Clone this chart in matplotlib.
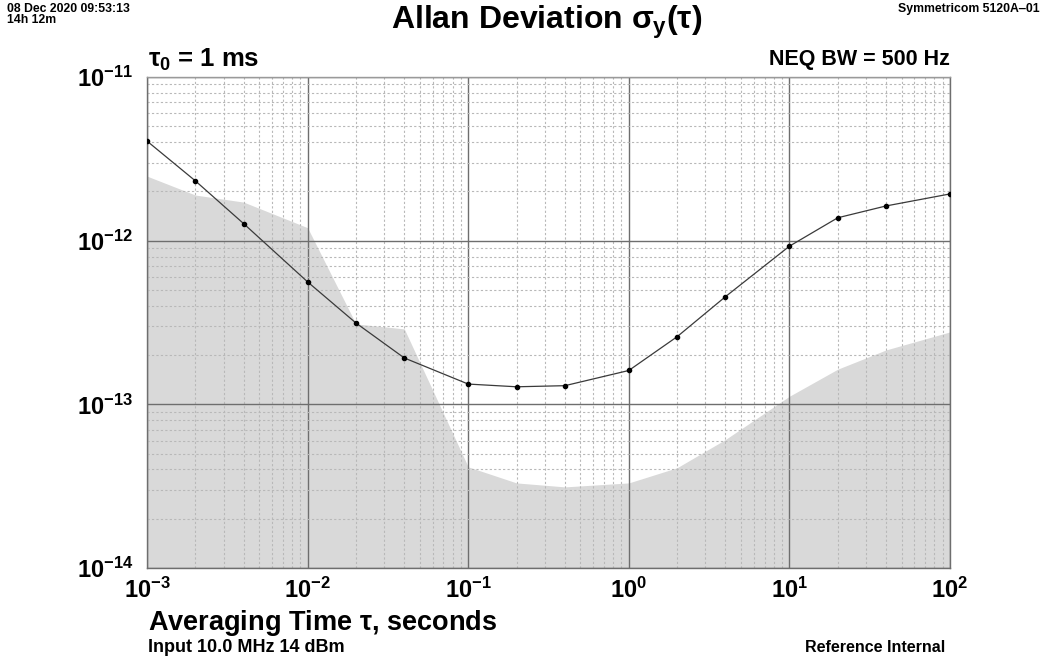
import matplotlib
matplotlib.use("Agg")
import matplotlib.pyplot as plt
from matplotlib.ticker import LogLocator, NullFormatter

# averaging times (s)
tau = [1e-3, 2e-3, 4e-3, 1e-2, 2e-2, 4e-2, 1e-1, 2e-1, 4e-1,
       1.0, 2.0, 4.0, 10.0, 20.0, 40.0, 100.0]
# measured Allan deviation
adev = [4.06e-12, 2.32e-12, 1.27e-12, 5.6e-13, 3.14e-13, 1.92e-13, 1.33e-13, 1.28e-13, 1.30e-13,
        1.61e-13, 2.59e-13, 4.55e-13, 9.25e-13, 1.38e-12, 1.63e-12, 1.93e-12]
# instrument noise floor (shaded)
floor = [2.48e-12, 1.90e-12, 1.72e-12, 1.20e-12, 3.10e-13, 2.89e-13, 4.15e-14, 3.31e-14, 3.13e-14,
         3.31e-14, 4.1e-14, 6.1e-14, 1.12e-13, 1.64e-13, 2.15e-13, 2.77e-13]

x_ticks = [1e-3, 1e-2, 1e-1, 1, 10, 100]
y_ticks = [1e-14, 1e-13, 1e-12, 1e-11]

plt.rcParams['font.family'] = ['Liberation Sans', 'DejaVu Sans']
plt.rcParams['font.weight'] = 'bold'
plt.rcParams['mathtext.fontset'] = 'custom'
plt.rcParams['mathtext.rm'] = 'Liberation Sans:bold'
plt.rcParams['mathtext.it'] = 'Liberation Sans:bold'
plt.rcParams['mathtext.bf'] = 'Liberation Sans:bold'
plt.rcParams['axes.unicode_minus'] = True

fig = plt.figure(figsize=(10.47, 6.62), dpi=100)
ax = fig.add_axes([147 / 1047, 1 - 568 / 662, 803 / 1047, 491 / 662])

ax.fill_between(tau, 1e-14, floor, color='#d9d9d9', linewidth=0, zorder=1)
ax.plot(tau, adev, color='#3a3a3a', lw=0.9, marker='o', ms=3, mfc='black', mec='black', zorder=3)

ax.set_xscale('log')
ax.set_yscale('log')
ax.set_xlim(1e-3, 100)
ax.set_ylim(1e-14, 1e-11)
ax.set_xticks(x_ticks)
ax.set_yticks(y_ticks)
ax.xaxis.set_minor_locator(LogLocator(base=10, subs=range(2, 10), numticks=50))
ax.yaxis.set_minor_locator(LogLocator(base=10, subs=range(2, 10), numticks=50))
ax.xaxis.set_minor_formatter(NullFormatter())
ax.yaxis.set_minor_formatter(NullFormatter())
ax.tick_params(which='both', length=0, labelsize=17)
ax.tick_params(axis='x', pad=7)
ax.tick_params(axis='y', pad=10)

ax.set_axisbelow('line')
ax.grid(which='major', color='#6e6e6e', lw=1.0, ls='-')
ax.grid(which='minor', color='#b8b8b8', lw=0.8, ls=(0, (2, 2)))
for s in ax.spines.values():
    s.set_color('#6e6e6e')
    s.set_linewidth(1.0)
ax.spines['top'].set_color('#9a9a9a')

fig.text(547 / 1047, 1 - 22 / 662, r'Allan Deviation $\sigma_y(\tau)$', ha='center', va='center',
         fontsize=23, fontweight='bold')
fig.text(7 / 1047, 1 - 3 / 662, '08 Dec 2020 09:53:13\n14h 12m', ha='left', va='top',
         fontsize=8.8, fontweight='bold', linespacing=0.85)
fig.text(1040 / 1047, 1 - 3 / 662, 'Symmetricom 5120A\u201201', ha='right', va='top',
         fontsize=8.8, fontweight='bold')
fig.text(148 / 1047, 1 - 60 / 662, r'$\tau_0$ = 1 ms', ha='left', va='center',
         fontsize=18.5, fontweight='bold')
fig.text(950 / 1047, 1 - 60 / 662, 'NEQ BW = 500 Hz', ha='right', va='center',
         fontsize=15.5, fontweight='bold')
fig.text(148 / 1047, 1 - 623 / 662, r'Averaging Time $\tau$, seconds', ha='left', va='center',
         fontsize=19.5, fontweight='bold')
fig.text(148 / 1047, 1 - 648 / 662, 'Input 10.0 MHz 14 dBm', ha='left', va='center',
         fontsize=13, fontweight='bold')
fig.text(945 / 1047, 1 - 648 / 662, 'Reference Internal', ha='right', va='center',
         fontsize=11.5, fontweight='bold')

fig.savefig('out.png', dpi=100)
